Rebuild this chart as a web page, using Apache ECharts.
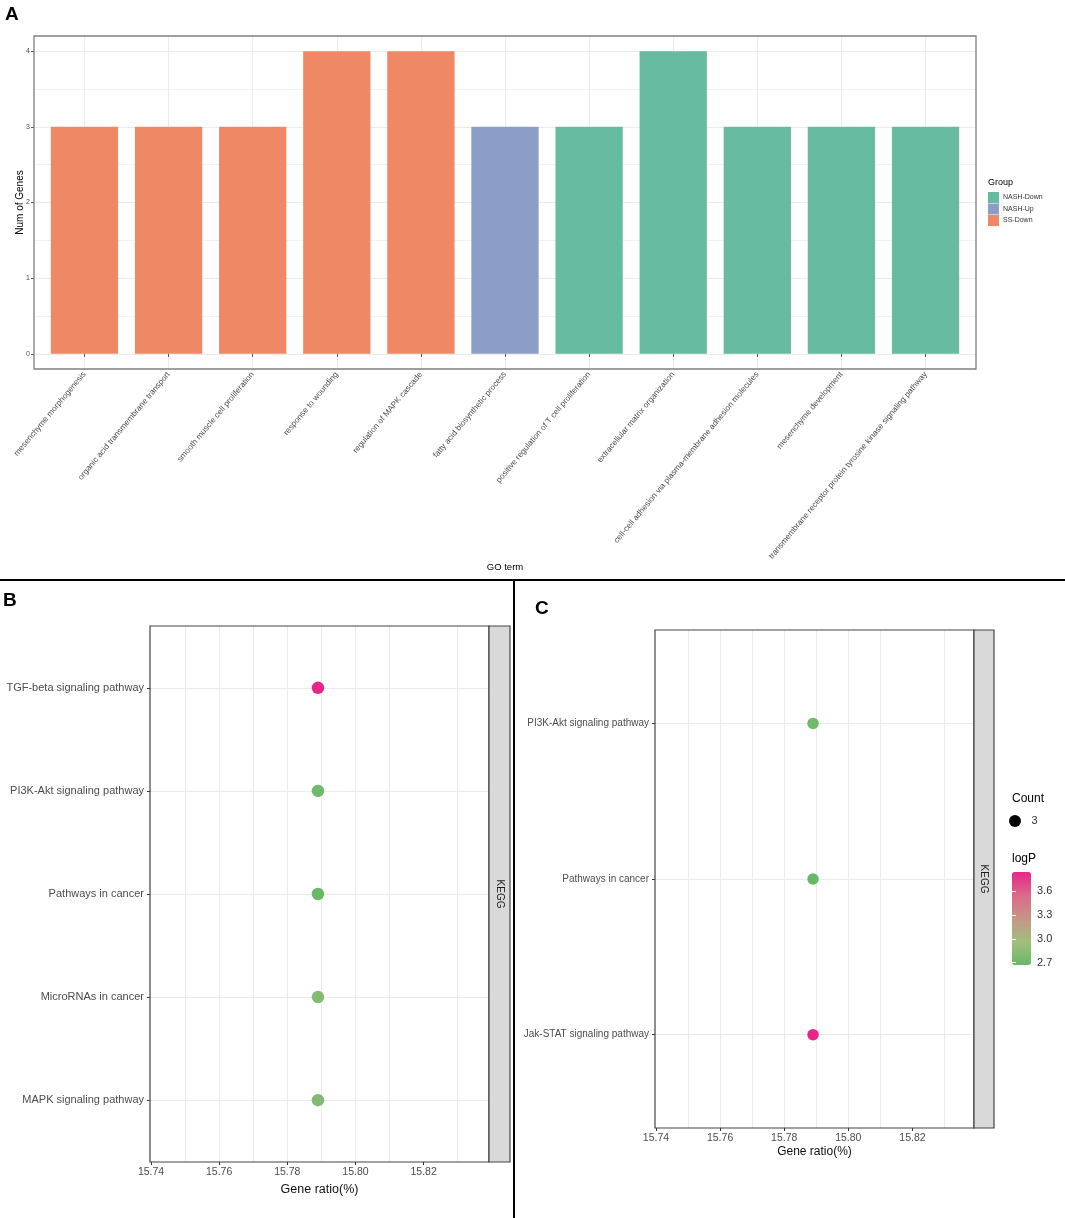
<!DOCTYPE html>
<html>
<head>
<meta charset="utf-8">
<script src="https://cdn.jsdelivr.net/npm/echarts@6/dist/echarts.min.js"></script>
<style>
  html, body { margin: 0; padding: 0; background: #fff; }
  #main { width: 1065px; height: 1218px; }
</style>
</head>
<body>
<div id="main"></div>
<script>
'use strict'

// panel A: GO terms
const goTerms = [
    'mesenchyme morphogenesis',
    'organic acid transmembrane transport',
    'smooth muscle cell proliferation',
    'response to wounding',
    'regulation of MAPK cascade',
    'fatty acid biosynthetic process',
    'positive regulation of T cell proliferation',
    'extracellular matrix organization',
    'cell-cell adhesion via plasma-membrane adhesion molecules',
    'mesenchyme development',
    'transmembrane receptor protein tyrosine kinase signaling pathway'
];
const geneCounts = [3, 3, 3, 4, 4, 3, 3, 4, 3, 3, 3];
const goGroups = ['SS-Down', 'SS-Down', 'SS-Down', 'SS-Down', 'SS-Down', 'NASH-Up',
    'NASH-Down', 'NASH-Down', 'NASH-Down', 'NASH-Down', 'NASH-Down'];
const groupNames = ['NASH-Down', 'NASH-Up', 'SS-Down'];
const groupColors = ['#67BBA0', '#8C9EC8', '#EF8865'];

// panel B: KEGG
const pathwaysB = ['TGF-beta signaling pathway', 'PI3K-Akt signaling pathway',
    'Pathways in cancer', 'MicroRNAs in cancer', 'MAPK signaling pathway'];
const ratioB = [15.789, 15.789, 15.789, 15.789, 15.789];
const logPB = [3.84, 2.72, 2.67, 2.80, 2.80];

// panel C: KEGG
const pathwaysC = ['PI3K-Akt signaling pathway', 'Pathways in cancer', 'Jak-STAT signaling pathway'];
const ratioC = [15.789, 15.789, 15.789];
const logPC = [2.72, 2.67, 3.84];

const ratioRange = [15.7397, 15.8392];
const ratioTicks = [15.74, 15.76, 15.78, 15.80, 15.82];
const logPRange = [2.67, 3.84];
const logPTicks = [2.7, 3.0, 3.3, 3.6];
const countLegend = ['3'];
const logPColors = ['#67B967', '#A3BE7E', '#C59585', '#DA6A8B', '#E8268A'];

const FONT = "'Liberation Sans', Arial, Helvetica, sans-serif";
const GRID = '#ebebeb';

// panel boxes (ggplot panel areas)
const boxA = {left: 34, top: 36, width: 942, height: 333};
const boxB = {left: 150, top: 626, width: 339, height: 536};
const boxC = {left: 655, top: 630, width: 319, height: 498};

// discrete axis: ggplot pads 0.6 of a band each side, echarts 0.5
function catBox(box, n, dir) {
    if (dir === 'x') {
        let band = box.width / (n + 0.2);
        return {left: box.left + 0.1 * band, top: box.top, width: band * n, height: box.height};
    }
    let band = box.height / (n + 0.2);
    return {left: box.left, top: box.top + 0.1 * band, width: box.width, height: band * n};
}

let maxCount = Math.max.apply(null, geneCounts);
let countLo = -0.05 * maxCount, countHi = maxCount * 1.05;
let yScaleA = boxA.height / (countHi - countLo);
let lineBoxA = {left: boxA.left, width: boxA.width,
    top: boxA.top + (countHi - maxCount) * yScaleA, height: maxCount * yScaleA};

function g(box) {
    return Object.assign({show: false, containLabel: false, outerBoundsMode: 'none'}, box);
}

const hiddenVal = (gi, range) => ({
    gridIndex: gi, type: 'value', show: false,
    min: range ? range[0] : null, max: range ? range[1] : null,
    splitLine: {show: false}
});

let myChart = echarts.init(document.getElementById('main'), null, {renderer: 'canvas'});

myChart.setOption({
    animation: false,
    backgroundColor: '#fff',
    textStyle: {fontFamily: FONT},
    title: [
        {text: 'A', left: 5, top: 5, padding: 0, textStyle: {fontSize: 19, fontWeight: 'bold', color: '#000'}},
        {text: 'B', left: 3, top: 591, padding: 0, textStyle: {fontSize: 19, fontWeight: 'bold', color: '#000'}},
        {text: 'C', left: 535, top: 599, padding: 0, textStyle: {fontSize: 19, fontWeight: 'bold', color: '#000'}},
        {text: 'Group', left: 988, top: 178, padding: 0, textStyle: {fontSize: 9, fontWeight: 'normal', color: '#000'}},
        {text: 'Count', left: 1012, top: 793, padding: 0, textStyle: {fontSize: 12, fontWeight: 'normal', color: '#000'}},
        {text: 'logP', left: 1012, top: 853, padding: 0, textStyle: {fontSize: 12, fontWeight: 'normal', color: '#000'}}
    ],
    legend: [{
        data: groupNames,
        orient: 'vertical',
        left: 988, top: 192,
        padding: 0,
        itemWidth: 11, itemHeight: 11, itemGap: 0.5,
        icon: 'rect',
        selectedMode: false,
        textStyle: {fontSize: 7, color: '#333', padding: [0, 0, 0, -1]}
    }, {
        data: countLegend,
        left: 1009, top: 815,
        padding: 0,
        itemWidth: 23, itemHeight: 12,
        icon: 'circle',
        selectedMode: false,
        itemStyle: {opacity: 1},
        textStyle: {fontSize: 11, color: '#333'}
    }],
    visualMap: [{
        type: 'continuous',
        seriesIndex: [3, 4],
        dimension: 2,
        min: logPRange[0], max: logPRange[1],
        left: 1012, top: 872,
        padding: 0,
        itemWidth: 19, itemHeight: 93,
        calculable: false,
        hoverLink: false,
        inRange: {color: logPColors}
    }],
    grid: [
        g(boxA),                       // 0 A frame: vertical lines
        g(lineBoxA),                   // 1 A horizontal lines + y labels
        g(catBox(boxA, goTerms.length, 'x')), // 2 A bars
        g(boxB),                       // 3 B frame
        g(catBox(boxB, pathwaysB.length, 'y')), // 4 B points
        g(boxC),                       // 5 C frame
        g(catBox(boxC, pathwaysC.length, 'y')), // 6 C points
        g({left: 1012, top: 872, width: 19, height: 93}) // 7 colorbar labels
    ],
    xAxis: [
        { // 0
            gridIndex: 0, type: 'value', min: 0.4, max: goTerms.length + 0.6, splitNumber: goTerms.length,
            axisLine: {show: false}, axisTick: {show: false}, axisLabel: {show: false},
            splitLine: {show: true, showMinLine: false, showMaxLine: false, lineStyle: {color: GRID}}
        },
        hiddenVal(1, [0, 1]), // 1
        { // 2
            gridIndex: 2, type: 'category', data: goTerms,
            axisLine: {show: false},
            axisTick: {show: true, alignWithLabel: true, length: 3, lineStyle: {color: '#555'}},
            axisLabel: {interval: 0, rotate: 50, fontSize: 8.2, color: '#4d4d4d', margin: 4},
            splitLine: {show: false},
            name: 'GO term', nameLocation: 'middle', nameGap: 193, nameMoveOverlap: false,
            nameTextStyle: {fontSize: 9.5, color: '#000'}
        },
        { // 3
            gridIndex: 3, type: 'value', min: ratioRange[0], max: ratioRange[1],
            axisLine: {show: false},
            axisTick: {show: true, length: 3, customValues: ratioTicks, lineStyle: {color: '#333'}},
            axisLabel: {fontSize: 10.5, color: '#4d4d4d', margin: 5, customValues: ratioTicks,
                formatter: v => v.toFixed(2)},
            splitLine: {show: true, showMinLine: false, showMaxLine: false, lineStyle: {color: GRID}},
            minorTick: {show: false, splitNumber: 2},
            minorSplitLine: {show: true, lineStyle: {color: GRID, width: 1}},
            name: 'Gene ratio(%)', nameLocation: 'middle', nameGap: 21,
            nameTextStyle: {fontSize: 12.5, color: '#111'}
        },
        hiddenVal(4, ratioRange), // 4
        { // 5
            gridIndex: 5, type: 'value', min: ratioRange[0], max: ratioRange[1],
            axisLine: {show: false},
            axisTick: {show: true, length: 3, customValues: ratioTicks, lineStyle: {color: '#333'}},
            axisLabel: {fontSize: 10.5, color: '#4d4d4d', margin: 5, customValues: ratioTicks,
                formatter: v => v.toFixed(2)},
            splitLine: {show: true, showMinLine: false, showMaxLine: false, lineStyle: {color: GRID}},
            minorTick: {show: false, splitNumber: 2},
            minorSplitLine: {show: true, lineStyle: {color: GRID, width: 1}},
            name: 'Gene ratio(%)', nameLocation: 'middle', nameGap: 18,
            nameTextStyle: {fontSize: 12, color: '#111'}
        },
        hiddenVal(6, ratioRange), // 6
        hiddenVal(7, [0, 1])      // 7
    ],
    yAxis: [
        hiddenVal(0, [0, 1]), // 0
        { // 1
            gridIndex: 1, type: 'value', min: 0, max: maxCount, interval: 1,
            axisLine: {show: false},
            axisTick: {show: true, length: 3, lineStyle: {color: '#555'}},
            axisLabel: {fontSize: 7, color: '#4d4d4d', margin: 4},
            splitLine: {show: true, lineStyle: {color: GRID}},
            minorTick: {show: false, splitNumber: 2},
            minorSplitLine: {show: true, lineStyle: {color: '#f2f2f2', width: 1}},
            name: 'Num of Genes', nameLocation: 'middle', nameGap: 9, nameMoveOverlap: false,
            nameTextStyle: {fontSize: 10, color: '#000'}
        },
        hiddenVal(2, [countLo, countHi]), // 2 bars
        { // 3 B frame: horizontal lines at category centres
            gridIndex: 3, type: 'value', min: 0.4, max: pathwaysB.length + 0.6, splitNumber: pathwaysB.length,
            axisLine: {show: false}, axisTick: {show: false}, axisLabel: {show: false},
            splitLine: {show: true, showMinLine: false, showMaxLine: false, lineStyle: {color: GRID}}
        },
        { // 4
            gridIndex: 4, type: 'category', data: pathwaysB, inverse: true,
            axisLine: {show: false},
            axisTick: {show: true, alignWithLabel: true, length: 3, lineStyle: {color: '#333'}},
            axisLabel: {fontSize: 11, color: '#4d4d4d', margin: 6},
            splitLine: {show: false}
        },
        { // 5 C frame
            gridIndex: 5, type: 'value', min: 0.4, max: pathwaysC.length + 0.6, splitNumber: pathwaysC.length,
            axisLine: {show: false}, axisTick: {show: false}, axisLabel: {show: false},
            splitLine: {show: true, showMinLine: false, showMaxLine: false, lineStyle: {color: GRID}}
        },
        { // 6
            gridIndex: 6, type: 'category', data: pathwaysC, inverse: true,
            axisLine: {show: false},
            axisTick: {show: true, alignWithLabel: true, length: 3, lineStyle: {color: '#333'}},
            axisLabel: {fontSize: 10, color: '#4d4d4d', margin: 6},
            splitLine: {show: false}
        },
        { // 7 colorbar labels
            gridIndex: 7, type: 'value', position: 'right', z: 10,
            min: logPRange[0], max: logPRange[1], splitNumber: 4,
            axisLine: {show: false},
            axisTick: {show: true, inside: true, length: 4, customValues: logPTicks,
                lineStyle: {color: '#fff', width: 1}},
            axisLabel: {fontSize: 11, color: '#333', margin: 6, customValues: logPTicks,
                formatter: v => v.toFixed(1)},
            splitLine: {show: false}
        },
        { // 8 colorbar left ticks
            gridIndex: 7, type: 'value', position: 'left', z: 10,
            min: logPRange[0], max: logPRange[1], splitNumber: 4,
            axisLine: {show: false},
            axisTick: {show: true, inside: true, length: 4, customValues: logPTicks,
                lineStyle: {color: '#fff', width: 1}},
            axisLabel: {show: false},
            splitLine: {show: false}
        }
    ],
    series: groupNames.map((name, k) => ({
        name,
        type: 'bar',
        stack: 'go',
        xAxisIndex: 2, yAxisIndex: 2,
        barWidth: '80%',
        itemStyle: {color: groupColors[k]},
        data: geneCounts.map((v, i) => goGroups[i] === name ? v : '-')
    })).concat([{
        name: 'KEGG-B',
        type: 'scatter',
        xAxisIndex: 4, yAxisIndex: 4,
        symbolSize: 12.5,
        itemStyle: {opacity: 1},
        data: pathwaysB.map((p, i) => [ratioB[i], p, logPB[i]])
    }, {
        name: 'KEGG-C',
        type: 'scatter',
        xAxisIndex: 6, yAxisIndex: 6,
        symbolSize: 11.5,
        itemStyle: {opacity: 1},
        data: pathwaysC.map((p, i) => [ratioC[i], p, logPC[i]])
    }, {
        name: countLegend[0],
        type: 'scatter',
        xAxisIndex: 6, yAxisIndex: 6,
        itemStyle: {color: '#000', opacity: 1},
        data: []
    }]),
    graphic: [
        // panel borders
        {type: 'rect', z: 50, silent: true, shape: {x: boxA.left, y: boxA.top, width: boxA.width, height: boxA.height},
            style: {fill: null, stroke: '#808080', lineWidth: 1.3}},
        {type: 'rect', z: 50, silent: true, shape: {x: boxB.left, y: boxB.top, width: boxB.width, height: boxB.height},
            style: {fill: null, stroke: '#444', lineWidth: 1.2}},
        {type: 'rect', z: 50, silent: true, shape: {x: boxC.left, y: boxC.top, width: boxC.width, height: boxC.height},
            style: {fill: null, stroke: '#444', lineWidth: 1.2}},
        // facet strips
        {type: 'rect', z: 50, silent: true, shape: {x: 489, y: boxB.top, width: 21, height: boxB.height},
            style: {fill: '#d9d9d9', stroke: '#444', lineWidth: 1.2}},
        {type: 'text', z: 51, silent: true, x: 499.5, y: boxB.top + boxB.height / 2, rotation: -Math.PI / 2,
            style: {text: 'KEGG', fontSize: 10, fontFamily: FONT, fill: '#1a1a1a', align: 'center', verticalAlign: 'middle'}},
        {type: 'rect', z: 50, silent: true, shape: {x: 974, y: boxC.top, width: 20, height: boxC.height},
            style: {fill: '#d9d9d9', stroke: '#444', lineWidth: 1.2}},
        {type: 'text', z: 51, silent: true, x: 984, y: boxC.top + boxC.height / 2, rotation: -Math.PI / 2,
            style: {text: 'KEGG', fontSize: 10, fontFamily: FONT, fill: '#1a1a1a', align: 'center', verticalAlign: 'middle'}},
        // figure dividers
        {type: 'line', z: 50, silent: true, shape: {x1: 0, y1: 580, x2: 1065, y2: 580},
            style: {stroke: '#000', lineWidth: 2}},
        {type: 'line', z: 50, silent: true, shape: {x1: 514, y1: 580, x2: 514, y2: 1218},
            style: {stroke: '#000', lineWidth: 2}}
    ]
});
</script>
</body>
</html>
